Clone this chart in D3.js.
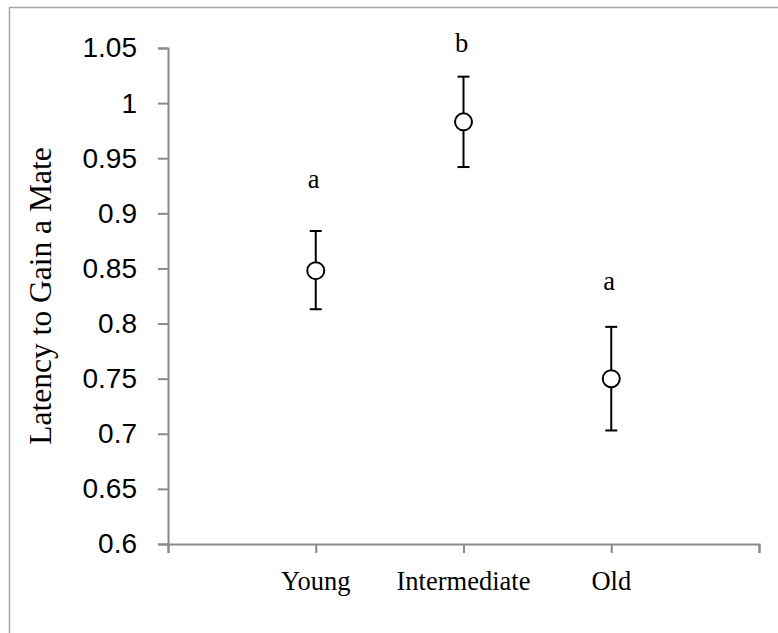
<!DOCTYPE html>
<html>
<head>
<meta charset="utf-8">
<script src="https://cdn.jsdelivr.net/npm/d3@7/dist/d3.min.js"></script>
<style>
  html, body { margin: 0; padding: 0; background: #fff; }
  svg { display: block; }
</style>
</head>
<body>
<div id="chart"></div>
<script>
// ---- data ----
const categories = ["Young", "Intermediate", "Old"];
const means      = [0.848, 0.983, 0.750];
const upper      = [0.884, 1.024, 0.797];
const lower      = [0.813, 0.942, 0.703];
const letters    = ["a", "b", "a"];
const letterAt   = [0.923, 1.046, 0.830];
const yTicks     = [0.6, 0.65, 0.7, 0.75, 0.8, 0.85, 0.9, 0.95, 1, 1.05];
const yTitle     = "Latency to Gain a Mate";

const W = 778, H = 633;
const svg = d3.select("#chart").append("svg").attr("width", W).attr("height", H);

// chart frame (extends beyond the visible area on right/bottom)
svg.append("rect").attr("x", 9.5).attr("y", 7.5).attr("width", 900).attr("height", 900)
  .attr("fill", "none").attr("stroke", "#a6a6a6").attr("stroke-width", 1.5);

const x = d3.scaleLinear().domain([0, 4]).range([168, 759]);
const y = d3.scaleLinear().domain([0.6, 1.05]).range([544, 48]);
const axisColor = "#898989";

// y axis
const yAxis = svg.append("g").attr("transform", `translate(${x(0)},0)`)
  .call(d3.axisLeft(y).tickValues(yTicks).tickSize(10).tickPadding(21)
    .tickFormat(d => String(+d.toFixed(2))));
yAxis.select(".domain").attr("stroke", axisColor).attr("stroke-width", 2);
yAxis.selectAll(".tick line").attr("stroke", axisColor).attr("stroke-width", 2);
yAxis.selectAll(".tick text").attr("fill", "#000")
  .style("font-family", "'Liberation Sans', Arial, sans-serif").style("font-size", "28px");

// x axis
const xAxis = svg.append("g").attr("transform", `translate(0,${y(0.6)})`)
  .call(d3.axisBottom(x).tickValues([0, 1, 2, 3, 4]).tickSize(9).tickFormat(""));
xAxis.select(".domain").attr("stroke", axisColor).attr("stroke-width", 2);
xAxis.selectAll(".tick line").attr("stroke", axisColor).attr("stroke-width", 2);

// category labels
svg.selectAll(".cat").data(categories).enter().append("text")
  .attr("class", "cat")
  .attr("x", (d, i) => x(i + 1)).attr("y", 590)
  .attr("text-anchor", "middle")
  .style("font-family", "'Liberation Serif', 'Times New Roman', serif")
  .style("font-size", "26.5px").attr("fill", "#000")
  .text(d => d);

// y title
svg.append("text")
  .attr("transform", `translate(51,296) rotate(-90)`)
  .attr("text-anchor", "middle")
  .style("font-family", "'Liberation Serif', 'Times New Roman', serif")
  .style("font-size", "31.5px").attr("fill", "#000")
  .text(yTitle);

// error bars
const eb = svg.selectAll(".eb").data(categories).enter().append("g").attr("class", "eb");
eb.append("line")
  .attr("x1", (d, i) => x(i + 1)).attr("x2", (d, i) => x(i + 1))
  .attr("y1", (d, i) => y(upper[i])).attr("y2", (d, i) => y(lower[i]))
  .attr("stroke", "#000").attr("stroke-width", 2);
eb.append("line")
  .attr("x1", (d, i) => x(i + 1) - 6).attr("x2", (d, i) => x(i + 1) + 6)
  .attr("y1", (d, i) => y(upper[i])).attr("y2", (d, i) => y(upper[i]))
  .attr("stroke", "#000").attr("stroke-width", 2);
eb.append("line")
  .attr("x1", (d, i) => x(i + 1) - 6).attr("x2", (d, i) => x(i + 1) + 6)
  .attr("y1", (d, i) => y(lower[i])).attr("y2", (d, i) => y(lower[i]))
  .attr("stroke", "#000").attr("stroke-width", 2);

// points
svg.selectAll(".pt").data(means).enter().append("circle")
  .attr("class", "pt")
  .attr("cx", (d, i) => x(i + 1)).attr("cy", d => y(d))
  .attr("r", 8.5).attr("fill", "#fff").attr("stroke", "#000").attr("stroke-width", 2);

// significance letters
svg.selectAll(".let").data(letters).enter().append("text")
  .attr("class", "let")
  .attr("x", (d, i) => x(i + 1) - 2).attr("y", (d, i) => y(letterAt[i]))
  .attr("text-anchor", "middle")
  .style("font-family", "'Liberation Serif', 'Times New Roman', serif")
  .style("font-size", "26.5px").attr("fill", "#000")
  .text(d => d);
</script>
</body>
</html>
